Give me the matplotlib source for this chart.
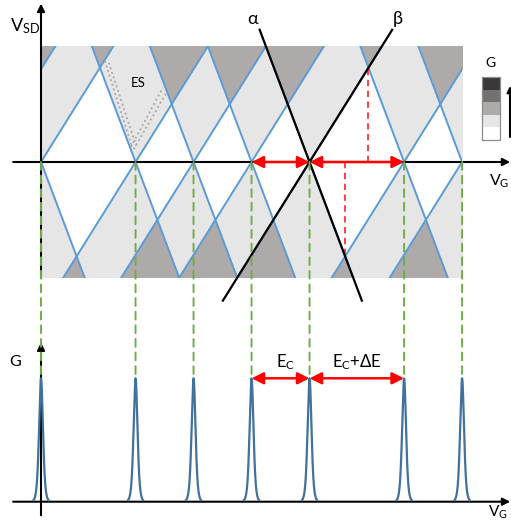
import numpy as np
import matplotlib
matplotlib.use('Agg')
import matplotlib.pyplot as plt
from matplotlib.colors import ListedColormap
from matplotlib.patches import Rectangle, ConnectionPatch

plt.rcParams['font.family'] = ['Lato', 'DejaVu Sans']
plt.rcParams['mathtext.fontset'] = 'custom'
plt.rcParams['mathtext.rm'] = 'Lato'
plt.rcParams['mathtext.it'] = 'Lato:italic'
plt.rcParams['mathtext.fallback'] = 'stixsans'

# charge degeneracy points on the gate axis (units of E_C)
vg_peaks = [0.0, 1.63, 2.63, 3.63, 4.63, 6.26, 7.26]
vg_ghost = [-1.0]        # transition just left of the plotted window
slope_up = 1.6           # dVsd/dVg of the "/" diamond edges
slope_down = 2.65        # |dVsd/dVg| of the "\" diamond edges
vsd_max = 2.0
peak_height = 1.0
peak_width = 0.045

# excited-state lines inside the second diamond: (start), (end) as (Vg, Vsd)
es_lines = [((1.10, 1.74), (1.57, 0.26)),
            ((1.17, 1.71), (1.64, 0.28)),
            ((1.55, 0.26), (2.10, 1.28)),
            ((1.60, 0.22), (2.17, 1.21))]

# conductance scale, high -> low
legend_colors = ['#3a3838', '#767171', '#aeaaaa', '#e7e6e6', '#ffffff']

W, H = 511, 527
fig = plt.figure(figsize=(W / 100, H / 100), dpi=100)
ax = fig.add_axes([0, 227 / H, 1, 300 / H])
axb = fig.add_axes([0, 0, 1, 227 / H])
xlim = (-41 / 58, 470 / 58)
ax.set_xlim(xlim)
ax.set_ylim(-138 / 58, 162 / 58)
axb.set_xlim(xlim)
axb.set_ylim(-25.3 / 123.4, 201.7 / 123.4)
ax.axis('off')
axb.axis('off')

# --- stability diagram ---
vg = np.linspace(vg_peaks[0], vg_peaks[-1], 1800)
vsd = np.linspace(-vsd_max, vsd_max, 1000)
X, Y = np.meshgrid(vg, vsd)
n = np.zeros(X.shape, dtype=int)
for v in vg_ghost + vg_peaks:
    up = (Y > 0) & (Y > slope_up * (X - v)) & (Y > slope_down * (v - X))
    down = (Y < 0) & (-Y > slope_up * (v - X)) & (-Y > slope_down * (X - v))
    n += (up | down)
cmap = ListedColormap(legend_colors[::-1])
ax.imshow(np.clip(n, 0, 4), cmap=cmap, vmin=-0.5, vmax=4.5, origin='lower',
          extent=[vg[0], vg[-1], -vsd_max, vsd_max], aspect='auto',
          interpolation='nearest', zorder=1)

box = Rectangle((vg_peaks[0], -vsd_max), vg_peaks[-1] - vg_peaks[0], 2 * vsd_max,
                transform=ax.transData, fill=False, lw=0)
s = np.array([-vsd_max, vsd_max])
for v in vg_ghost + vg_peaks:
    for xs in (v + s / slope_up, v - s / slope_down):
        ln, = ax.plot(xs, s, color='#5b9bd5', lw=1.4, zorder=2)
        ln.set_clip_path(box)

for (x0, y0), (x1, y1) in es_lines:
    ax.plot([x0, x1], [y0, y1], color='#a6a6a6', ls=':', lw=1.3, zorder=3)
ax.text(1.68, 1.36, 'ES', fontsize=9.5, ha='center', va='center', zorder=3)

# diamond tips of the large diamond
v0 = vg_peaks[4]
gap = vg_peaks[5] - vg_peaks[4]
h = gap / (1 / slope_up + 1 / slope_down)
ax.plot([v0 + h / slope_up] * 2, [0, h], color='#ff3030', ls=(0, (3.5, 2.5)), lw=1.3, zorder=3)
ax.plot([v0 + h / slope_down] * 2, [0, -h], color='#ff3030', ls=(0, (3.5, 2.5)), lw=1.3, zorder=3)

# axes arrows
arrow_kw = dict(arrowstyle='-|>', color='black', lw=1.5, mutation_scale=11,
                shrinkA=0, shrinkB=0)
ax.annotate('', xy=(8.09, 0), xytext=(-0.48, 0), arrowprops=arrow_kw, zorder=4)
ax.annotate('', xy=(0, 2.73), xytext=(0, -vsd_max), arrowprops=arrow_kw, zorder=4)
ax.text(-0.54, 2.26, r'V$_{\rm SD}$', fontsize=13, ha='left', va='baseline')
ax.text(7.72, -0.41, r'V$_{\rm G}$', fontsize=11.5, ha='left', va='baseline')

# alpha / beta lines through one degeneracy point
ab = np.array([-2.39, 2.28])
ax.plot(v0 - ab / slope_down, ab, color='black', lw=1.6, zorder=5, clip_on=False)
ax.plot(v0 + ab / slope_up, ab, color='black', lw=1.6, zorder=5, clip_on=False)
ax.text(3.64, 2.47, 'α', fontsize=13, ha='center', va='center')
ax.text(6.16, 2.47, 'β', fontsize=13, ha='center', va='center')

red_kw = dict(arrowstyle='<|-|>,head_length=0.5,head_width=0.25', color='red',
              lw=1.8, mutation_scale=14, shrinkA=0, shrinkB=0)
for a, b in [(vg_peaks[3], vg_peaks[4]), (vg_peaks[4], vg_peaks[5])]:
    ax.annotate('', xy=(b, 0), xytext=(a, 0), arrowprops=red_kw, zorder=6)

# --- conductance trace ---
axb.annotate('', xy=(8.09, 0), xytext=(-0.48, 0), arrowprops=arrow_kw, zorder=2)
axb.annotate('', xy=(0, 1.29), xytext=(0, -0.11), arrowprops=arrow_kw, zorder=2)
for p in vg_peaks:
    x = np.linspace(p - 0.13, p + 0.13, 200)
    g = peak_height / np.cosh((x - p) / peak_width) ** 2
    axb.plot(x, g, color='#41719c', lw=1.6, zorder=3)
    cp = ConnectionPatch(xyA=(p, 0), coordsA=ax.transData,
                         xyB=(p, peak_height), coordsB=axb.transData,
                         color='#70ad47', lw=1.4, ls=(0, (4, 3)))
    fig.add_artist(cp)

for a, b in [(vg_peaks[3], vg_peaks[4]), (vg_peaks[4], vg_peaks[5])]:
    axb.annotate('', xy=(b, peak_height), xytext=(a, peak_height),
                 arrowprops=red_kw, zorder=4)
axb.text(4.21, 1.09, r'E$_{\rm C}$', fontsize=12, ha='center', va='baseline')
axb.text(5.44, 1.09, r'E$_{\rm C}$+ΔE', fontsize=12, ha='center', va='baseline')
axb.text(-0.45, 1.13, 'G', fontsize=11.5, ha='center', va='center')
axb.text(7.70, -0.12, r'V$_{\rm G}$', fontsize=11, ha='left', va='baseline')

# --- conductance scale bar ---
def fig_px(x, y):
    return (x / W, 1 - y / H)

seg = 12.6
for i, c in enumerate(legend_colors):
    fig.add_artist(Rectangle(fig_px(481.7, 77 + (i + 1) * seg), 18.3 / W, seg / H,
                             transform=fig.transFigure, facecolor=c, edgecolor='none'))
fig.add_artist(Rectangle(fig_px(481.7, 77 + 5 * seg), 18.3 / W, 5 * seg / H,
                         transform=fig.transFigure, fill=False, edgecolor='#8c8c8c', lw=0.9))
fig.text(*fig_px(490.7, 63.3), 'G', fontsize=10, ha='center', va='center')
ax.annotate('', xy=(510, H - 86), xytext=(510, H - 137), xycoords='figure pixels',
            textcoords='figure pixels',
            arrowprops=dict(arrowstyle='-|>', color='black', lw=1.5, mutation_scale=9,
                            shrinkA=0, shrinkB=0))

fig.savefig('out.png', dpi=100)
